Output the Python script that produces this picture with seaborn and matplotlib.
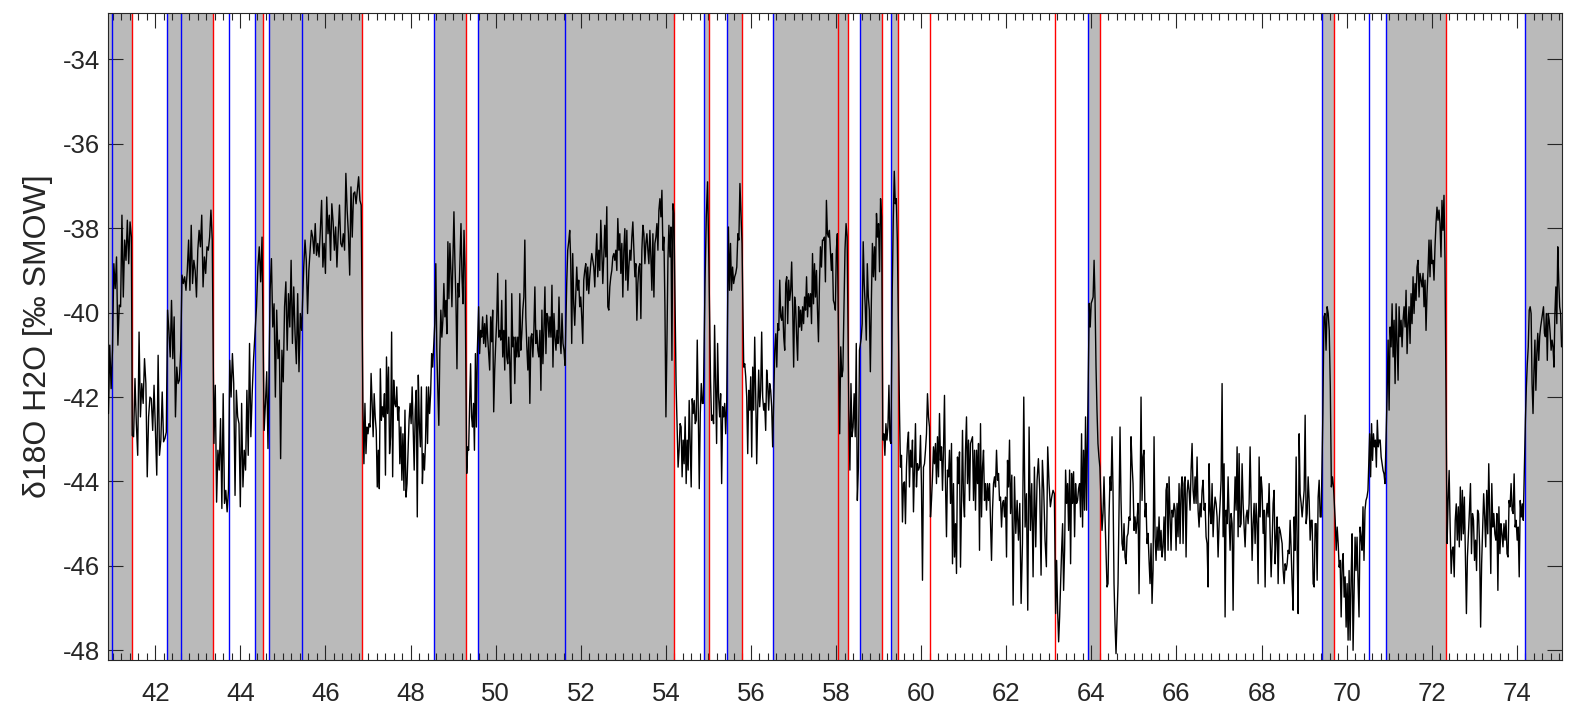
import numpy as np
import pandas as pd
import matplotlib
matplotlib.use("Agg")
import matplotlib.pyplot as plt
from matplotlib.ticker import MultipleLocator
import seaborn as sns

# ---------------- data ----------------
segment_bounds = [
    (40.90, 41.44), (41.46, 42.26), (42.29, 43.34), (43.38, 44.34), (44.38, 44.51),
    (44.56, 44.65), (44.70, 45.44), (45.49, 46.84), (46.88, 48.52), (48.57, 49.28),
    (49.32, 49.57), (49.60, 51.63), (51.67, 54.19), (54.24, 54.88), (54.92, 55.01),
    (55.05, 55.43), (55.47, 55.79), (55.83, 56.51), (56.56, 58.03), (58.06, 58.26),
    (58.30, 58.55), (58.59, 59.07), (59.10, 59.29), (59.32, 59.44), (59.49, 62.10),
    (62.13, 63.13), (63.16, 63.91), (63.95, 64.20), (64.25, 69.40), (69.44, 69.69),
    (69.73, 70.50), (70.54, 70.90), (70.95, 72.31), (72.36, 74.15), (74.20, 75.05),
]

seg01 = [-42.39, -40.77, -41.80, -40.89, -38.84, -39.43, -38.68, -40.77, -39.82, -39.86, -37.69, -39.63,
         -38.28, -38.76, -37.81, -38.84, -37.85, -38.21]
seg02 = [-42.91, -42.94, -41.56, -42.63, -43.38, -40.46, -42.47, -41.68, -42.15, -41.09, -41.68, -43.89,
         -42.47, -42.00, -42.04, -42.79, -41.72, -42.79, -43.85, -41.01, -43.38, -43.02, -41.88, -43.06,
         -42.98, -42.83]
seg03 = [-39.94, -40.42, -41.05, -39.71, -41.09, -40.10, -42.47, -41.29, -41.68, -41.60, -40.89, -39.11,
         -39.31, -39.15, -39.47, -39.00, -38.28, -39.47, -37.93, -39.31, -38.76, -39.00, -39.63, -38.52,
         -38.05, -38.44, -37.69, -39.39, -38.68, -39.07, -38.44, -38.52, -38.21, -37.57, -38.28]
seg04 = [-43.10, -41.72, -44.49, -43.26, -43.73, -42.51, -44.64, -41.92, -44.52, -44.21, -44.72, -44.21,
         -41.13, -42.00, -40.97, -41.68, -44.33, -41.84, -42.47, -42.63, -44.60, -42.15, -44.13, -43.26,
         -43.73, -41.84, -43.38, -40.73, -42.94, -41.92, -41.13, -40.58]
seg05 = [-39.86, -38.92, -38.44, -39.27, -38.21]
seg06 = [-42.79, -42.15, -41.40, -43.22]
seg07 = [-39.47, -38.72, -40.34, -39.79, -42.00, -39.94, -41.09, -40.65, -43.46, -40.89, -41.64, -39.86,
         -39.27, -40.89, -39.55, -40.34, -38.76, -40.73, -39.39, -40.50, -41.21, -39.55, -41.40, -40.02,
         -40.42]
seg08 = [-38.92, -38.28, -38.76, -40.02, -39.00, -38.52, -38.05, -38.21, -38.60, -37.89, -38.64, -38.36,
         -38.68, -38.05, -37.34, -38.92, -38.36, -39.07, -37.26, -38.13, -37.69, -38.76, -37.42, -37.85,
         -38.52, -37.97, -38.92, -38.13, -37.45, -38.36, -38.44, -38.13, -38.52, -36.70, -37.57, -38.13,
         -39.11, -37.02, -38.21, -37.18, -37.14, -37.42, -37.10, -36.78, -37.34, -37.45]
seg09 = [-42.15, -43.58, -42.15, -43.34, -42.71, -42.87, -42.63, -42.71, -41.44, -42.15, -42.94, -41.92,
         -42.47, -42.79, -44.13, -43.26, -44.17, -41.33, -42.55, -42.23, -42.47, -41.92, -43.85, -41.05,
         -42.39, -41.29, -43.34, -42.94, -40.46, -43.89, -41.60, -42.15, -42.23, -41.76, -42.55, -42.23,
         -43.58, -42.71, -43.97, -42.87, -44.21, -42.31, -44.37, -44.05, -43.26, -42.55, -42.15, -42.63,
         -41.76, -42.79, -43.73, -42.31, -41.84, -44.84, -41.48, -42.63, -43.18, -41.76, -44.05, -43.34,
         -43.73, -43.10, -41.76, -43.10, -41.76, -42.39, -41.92, -40.97, -41.29]
seg10 = [-40.26, -38.84, -40.89, -41.84, -42.67, -40.89, -39.94, -40.58, -40.18, -39.31, -40.10, -39.71,
         -40.50, -38.32, -39.67, -38.36, -39.00, -39.86, -38.76, -37.61, -38.84, -39.71, -41.33, -39.31,
         -39.63, -38.76, -37.89, -39.15, -39.79, -38.05, -38.92]
seg11 = [-43.81, -43.18, -43.26, -42.15, -41.21, -42.47, -42.71, -42.15, -43.26, -40.97, -42.71, -40.89]
seg12 = [-39.86, -40.97, -40.42, -40.58, -40.10, -40.73, -40.26, -40.81, -40.06, -40.58, -40.97, -41.36,
         -40.10, -40.69, -39.94, -42.35, -41.36, -40.73, -40.18, -39.07, -40.58, -40.42, -40.65, -39.71,
         -41.05, -40.42, -41.36, -39.23, -41.05, -41.21, -40.58, -41.21, -42.15, -39.55, -40.81, -40.58,
         -41.68, -40.58, -41.05, -40.58, -41.05, -39.55, -40.89, -40.50, -39.94, -39.63, -38.28, -40.10,
         -40.81, -41.36, -40.58, -42.15, -40.58, -40.50, -41.05, -40.42, -39.39, -40.73, -40.42, -40.89,
         -41.05, -40.42, -41.84, -39.94, -41.21, -40.42, -39.39, -40.97, -40.02, -40.10, -40.58, -40.10,
         -40.58, -39.35, -41.29, -40.02, -40.58, -40.89, -40.42, -40.73, -39.63, -40.58, -40.97, -40.02,
         -40.73, -40.89, -41.25]
seg13 = [-39.31, -38.52, -38.32, -38.05, -38.76, -40.73, -38.60, -39.79, -40.30, -39.63, -38.92, -39.47,
         -39.23, -39.86, -39.63, -40.10, -40.73, -39.23, -39.00, -38.84, -39.47, -38.92, -39.55, -39.15,
         -38.84, -38.60, -38.76, -38.92, -39.39, -38.68, -38.13, -39.15, -38.52, -39.00, -37.81, -38.52,
         -39.31, -38.68, -37.93, -38.68, -37.49, -39.86, -39.94, -39.39, -39.15, -39.00, -38.68, -38.60,
         -38.76, -38.52, -39.00, -37.77, -38.52, -38.13, -39.07, -38.36, -39.63, -38.52, -38.01, -39.23,
         -38.05, -39.47, -38.92, -38.52, -38.76, -38.21, -37.85, -38.52, -39.15, -38.84, -40.18, -39.31,
         -38.92, -38.84, -40.14, -38.52, -37.93, -38.13, -38.84, -38.36, -38.13, -38.52, -38.84, -38.05,
         -38.68, -39.47, -38.13, -39.63, -38.36, -38.21, -37.89, -38.52, -37.57, -37.30, -37.73, -37.10,
         -38.52, -38.21, -39.86, -42.47, -40.73, -38.76, -37.93, -38.68, -37.97, -41.13, -37.42, -37.65]
seg14 = [-41.68, -42.71, -43.66, -43.26, -42.63, -42.71, -43.89, -43.02, -43.58, -42.47, -44.05, -43.02,
         -43.73, -42.08, -43.10, -44.13, -42.04, -42.39, -42.08, -42.63, -42.55, -40.65, -42.31, -44.17,
         -42.39, -41.68, -42.15, -42.15]
seg15 = [-39.31, -37.73, -36.90, -38.76]
seg16 = [-41.60, -42.55, -42.43, -42.63, -40.30, -41.68, -43.10, -40.73, -42.00, -42.47, -41.92, -44.05,
         -42.23, -42.47, -42.15, -42.87, -42.15]
seg17 = [-37.97, -39.47, -38.36, -39.47, -38.92, -39.31, -39.15, -39.07, -38.92, -38.13, -38.28, -36.94,
         -37.65, -38.36]
seg18 = [-41.29, -41.21, -41.52, -42.00, -43.34, -41.84, -42.31, -41.52, -43.42, -41.29, -42.31, -40.58,
         -41.92, -43.58, -42.31, -41.36, -42.23, -41.84, -40.46, -42.00, -42.31, -42.15, -42.79, -41.36,
         -41.68, -42.31, -41.68, -41.84, -42.23, -43.18]
seg19 = [-40.89, -40.50, -41.29, -40.26, -40.42, -39.23, -40.10, -40.18, -39.86, -40.58, -40.89, -39.31,
         -39.15, -40.26, -39.23, -39.71, -39.47, -38.80, -39.86, -41.29, -39.63, -39.86, -40.58, -41.13,
         -39.86, -40.34, -39.94, -40.42, -39.86, -40.26, -39.63, -39.94, -39.15, -40.10, -39.55, -39.86,
         -39.55, -40.26, -38.60, -39.79, -38.84, -39.63, -39.00, -39.94, -40.69, -39.31, -38.44, -38.92,
         -38.28, -38.28, -38.21, -39.27, -37.34, -38.13, -38.21, -38.05, -38.52, -39.00, -38.60, -39.71,
         -39.79, -39.94, -38.52, -38.13]
seg20 = [-40.89, -42.87, -40.81, -41.52, -41.36, -40.00, -38.50, -37.89, -38.20]
seg21 = [-42.31, -43.73, -41.68, -42.94, -42.71, -41.92, -42.94, -40.73, -44.45, -43.66, -40.89]
seg22 = [-40.61, -40.26, -38.32, -39.31, -39.86, -40.65, -38.84, -39.63, -39.94, -41.40, -39.71, -38.36,
         -39.15, -38.44, -39.23, -37.65, -38.21, -37.89, -39.03, -37.30, -37.73]
seg23 = [-43.02, -42.87, -43.38, -42.63, -43.02, -42.71, -41.72, -43.02, -43.10]
seg24 = [-39.50, -37.80, -36.65, -37.42, -37.30, -38.30]
seg25 = [-42.31, -43.66, -43.38, -44.96, -44.05, -44.01, -45.00, -43.66, -43.10, -42.83, -44.13, -43.26,
         -43.66, -43.02, -44.72, -43.66, -42.63, -44.13, -43.58, -43.73, -43.66, -42.91, -44.13, -46.34,
         -43.66, -43.58, -43.26, -42.87, -41.92, -42.47, -42.71, -44.84, -44.45, -43.89, -43.18, -43.58,
         -43.10, -44.05, -42.94, -43.89, -42.39, -43.50, -43.18, -44.21, -43.26, -41.96, -44.05, -45.31,
         -43.73, -43.89, -43.26, -44.52, -43.10, -45.95, -44.05, -45.79, -45.00, -46.18, -43.42, -44.05,
         -43.30, -46.03, -44.52, -42.79, -44.45, -44.84, -43.26, -42.47, -44.05, -43.02, -44.45, -43.10,
         -43.02, -42.94, -44.45, -43.26, -44.68, -43.26, -44.05, -43.10, -45.63, -42.63, -44.84, -43.66,
         -43.26, -44.45, -44.05, -44.68, -44.05, -44.45, -44.05, -45.00, -45.87, -44.68, -44.05, -43.89,
         -44.13, -43.26, -43.97, -43.81, -44.45, -44.37, -45.08, -44.52, -44.45, -44.84, -44.37, -45.79,
         -43.50, -44.13, -43.02, -44.76]
seg26 = [-43.85, -46.93, -43.89, -45.23, -44.45, -45.39, -44.52, -46.89, -45.47, -42.00, -45.08, -44.29,
         -47.05, -42.71, -45.16, -44.05, -46.26, -43.66, -45.55, -43.97, -43.46, -44.21, -46.22, -43.50,
         -44.21, -45.39, -46.02, -43.18, -44.05, -44.60, -44.37, -44.21, -44.29]
seg27 = [-47.13, -45.87, -47.05, -47.80, -47.21, -46.42, -45.63, -45.00, -46.58, -45.63, -43.73, -44.52,
         -44.05, -45.16, -43.73, -45.95, -43.81, -44.52, -43.77, -45.31, -44.05, -44.52, -44.45, -44.17,
         -44.05, -44.84, -42.87, -45.08, -43.26, -44.68, -42.47, -44.68, -42.87]
seg28 = [-39.78, -40.34, -39.78, -39.71, -39.63, -38.76, -39.71, -41.28, -42.31, -43.10, -43.42, -43.66]
seg29 = [-45.16, -44.76, -43.89, -44.84, -45.63, -46.50, -46.42, -44.84, -43.89, -44.21, -42.94, -44.21,
         -46.42, -47.37, -48.08, -47.21, -46.42, -44.68, -42.71, -44.45, -45.47, -45.63, -45.00, -45.79,
         -45.95, -45.31, -45.23, -44.84, -44.92, -42.94, -43.58, -44.05, -45.16, -44.84, -45.23, -44.92,
         -44.52, -46.66, -44.60, -42.00, -44.45, -43.42, -43.26, -44.84, -44.52, -45.47, -45.23, -45.87,
         -46.42, -45.47, -46.89, -46.10, -42.94, -45.31, -45.87, -45.08, -45.63, -44.84, -45.63, -45.16,
         -45.79, -45.55, -44.84, -45.87, -44.21, -44.05, -45.63, -43.89, -44.84, -45.63, -44.68, -44.84,
         -44.52, -44.68, -45.63, -44.52, -45.31, -44.05, -45.47, -44.21, -43.89, -45.47, -44.05, -43.89,
         -45.79, -44.29, -43.97, -44.21, -44.68, -43.73, -43.10, -44.21, -44.52, -43.89, -44.52, -43.42,
         -44.68, -45.08, -44.52, -44.84, -44.21, -43.97, -44.68, -44.52, -45.31, -45.47, -46.50, -43.58,
         -44.68, -45.00, -44.05, -45.31, -44.68, -44.37, -44.52, -44.84, -45.79, -45.00, -44.52, -43.97,
         -41.68, -45.31, -43.58, -47.21, -44.68, -45.00, -43.89, -44.84, -45.63, -44.76, -45.00, -47.05,
         -44.84, -43.89, -44.68, -43.18, -45.31, -43.34, -45.08, -45.00, -43.58, -44.52, -45.08, -45.55,
         -44.84, -44.68, -45.00, -44.52, -43.18, -44.52, -45.87, -45.00, -44.52, -45.47, -44.52, -45.00,
         -46.42, -43.42, -44.84, -43.89, -44.21, -45.23, -44.68, -46.50, -44.84, -44.52, -44.84, -44.05,
         -45.31, -46.26, -45.47, -44.52, -44.21, -45.95, -45.31, -44.84, -46.42, -45.08, -45.16, -45.31,
         -45.47, -46.10, -46.42, -45.95, -46.10, -45.95, -45.63, -45.71, -44.92, -45.63, -46.42, -47.05,
         -44.84, -45.63, -43.42, -45.63, -47.13, -42.87, -44.29, -44.52, -44.84, -44.52, -44.21, -42.43,
         -45.00, -44.76, -43.89, -44.45, -45.39, -44.92, -44.92, -46.42, -46.50, -45.00, -45.00, -46.34,
         -44.37, -43.97, -44.84, -44.84]
seg30 = [-42.39, -40.10, -40.02, -40.89, -39.86, -40.02, -40.42, -41.76, -44.13, -43.89, -44.13]
seg31 = [-44.92, -45.63, -45.08, -45.47, -46.03, -45.87, -47.21, -45.95, -45.71, -46.74, -46.26, -47.45,
         -46.42, -47.76, -46.11, -47.76, -46.34, -45.24, -48.00, -46.66, -45.32, -46.11, -45.32, -46.34,
         -47.21, -45.08, -45.32, -45.63, -44.60, -45.87, -44.68, -44.45, -44.37, -44.21]
seg32 = [-42.87, -43.89, -42.63, -43.50, -42.87, -43.18, -43.02, -43.66, -42.55, -43.18, -43.02, -43.02,
         -43.42, -43.58, -43.74, -43.82, -44.05]
seg33 = [-41.92, -40.65, -42.31, -40.34, -40.81, -39.79, -41.05, -40.18, -41.68, -39.79, -40.73, -41.60,
         -39.86, -40.57, -40.18, -40.81, -40.18, -39.86, -40.34, -39.47, -40.97, -40.26, -39.86, -40.73,
         -39.55, -40.26, -39.15, -40.02, -39.31, -39.71, -38.92, -38.76, -39.63, -39.07, -39.23, -39.39,
         -39.07, -39.86, -39.23, -40.42, -39.55, -39.00, -38.28, -39.15, -38.28, -38.84, -38.76, -39.23,
         -38.44, -37.89, -37.50, -37.81, -37.57, -37.89, -38.68, -37.34, -38.05, -37.22, -38.76]
seg34 = [-45.47, -44.45, -43.74, -45.08, -46.18, -45.63, -45.55, -46.26, -44.92, -44.53, -45.39, -44.60,
         -45.55, -44.13, -45.39, -44.21, -45.24, -44.37, -45.71, -47.13, -45.79, -45.24, -44.68, -44.05,
         -45.71, -44.76, -44.92, -45.87, -45.39, -46.11, -44.68, -44.76, -45.55, -47.45, -45.95, -45.08,
         -44.29, -44.84, -45.55, -44.21, -45.24, -43.58, -44.76, -46.18, -44.05, -45.08, -44.76, -45.24,
         -45.39, -44.76, -46.58, -44.60, -45.71, -45.00, -45.24, -45.55, -45.00, -45.39, -44.92, -45.71,
         -45.79, -44.45, -44.60, -44.05, -44.68, -44.76, -43.82, -45.08, -44.92, -45.39, -45.08, -46.26,
         -44.45, -44.84, -44.53, -44.92]
seg35 = [-42.55, -41.76, -41.21, -40.81, -39.94, -39.86, -40.02, -41.68, -42.39, -41.37, -40.65, -41.84,
         -40.97, -40.49, -41.13, -40.57, -40.34, -40.18, -40.02, -39.86, -40.49, -40.57, -40.02, -41.13,
         -40.02, -40.18, -40.49, -40.89, -40.65, -40.81, -41.29, -40.02, -39.39, -40.26, -38.44, -39.23,
         -39.86, -40.02, -40.81]

segments = [seg01, seg02, seg03, seg04, seg05, seg06, seg07, seg08, seg09, seg10, seg11, seg12,
            seg13, seg14, seg15, seg16, seg17, seg18, seg19, seg20, seg21, seg22, seg23, seg24,
            seg25, seg26, seg27, seg28, seg29, seg30, seg31, seg32, seg33, seg34, seg35]

shaded_spans = [(40.80, 41.45), (42.27, 43.36), (44.35, 44.53), (44.67, 46.85), (48.55, 49.30),
                (49.58, 54.20), (54.90, 55.02), (55.44, 55.80), (56.52, 58.27), (58.56, 59.08),
                (59.30, 59.45), (63.92, 64.21), (69.42, 69.70), (70.92, 72.33), (74.18, 75.20)]
blue_lines = [40.98, 42.27, 42.61, 43.73, 44.35, 44.67, 45.45, 48.55, 49.58, 51.63, 54.90, 55.44,
              56.52, 58.56, 59.30, 63.92, 69.42, 70.52, 70.92, 74.18]
red_lines = [41.45, 43.36, 44.53, 46.85, 49.30, 54.20, 55.02, 55.80, 58.04, 58.27, 59.08, 59.45,
             60.20, 63.14, 64.21, 69.70, 72.33]

x_ticks = list(range(42, 75, 2))
y_ticks = list(range(-48, -33, 2))
y_label = "δ18O H2O [‰ SMOW]"

# ---------------- build the series ----------------
xs, ys = [], []
for (a, b), vals in zip(segment_bounds, segments):
    xs.extend(np.linspace(a, b, len(vals)))
    ys.extend(vals)
df = pd.DataFrame({"depth": xs, "d18O": ys})

# ---------------- style ----------------
sns.set_theme(style="ticks")
plt.rcParams["font.family"] = ["Liberation Sans", "DejaVu Sans"]
plt.rcParams["axes.unicode_minus"] = False
text_col = "#262626"

fig = plt.figure(figsize=(15.8, 7.19), dpi=100)
ax = fig.add_axes([108 / 1580, 1 - 660 / 719, (1562 - 108) / 1580, (660 - 13) / 719])

for a, b in shaded_spans:
    ax.axvspan(a, b, color="#bababa", lw=0, zorder=0)
for v in blue_lines:
    ax.axvline(v, color="#0000ff", lw=1.0, zorder=1)
for v in red_lines:
    ax.axvline(v, color="#ff0000", lw=1.0, zorder=1)

sns.lineplot(data=df, x="depth", y="d18O", ax=ax, color="black", lw=1.0,
             estimator=None, sort=False, zorder=3)

ax.set_xlim(40.89, 75.06)
ax.set_ylim(-48.23, -32.9)
ax.set_xticks(x_ticks)
ax.set_yticks(y_ticks)
ax.xaxis.set_minor_locator(MultipleLocator(0.2))
ax.tick_params(which="major", direction="in", top=True, right=True, length=10.5, width=0.8,
               colors=text_col, labelsize=18.5)
ax.tick_params(axis="x", which="major", pad=16)
ax.tick_params(axis="y", which="major", pad=6)
ax.tick_params(axis="x", which="minor", direction="in", top=True, bottom=True, length=5, width=0.8,
               colors=text_col)
ax.set_xlabel("")
ax.set_ylabel(y_label, fontsize=23, color=text_col, labelpad=7)
for s in ax.spines.values():
    s.set_color(text_col)
    s.set_linewidth(0.8)
    s.set_visible(True)

fig.savefig("out.png", dpi=100)
